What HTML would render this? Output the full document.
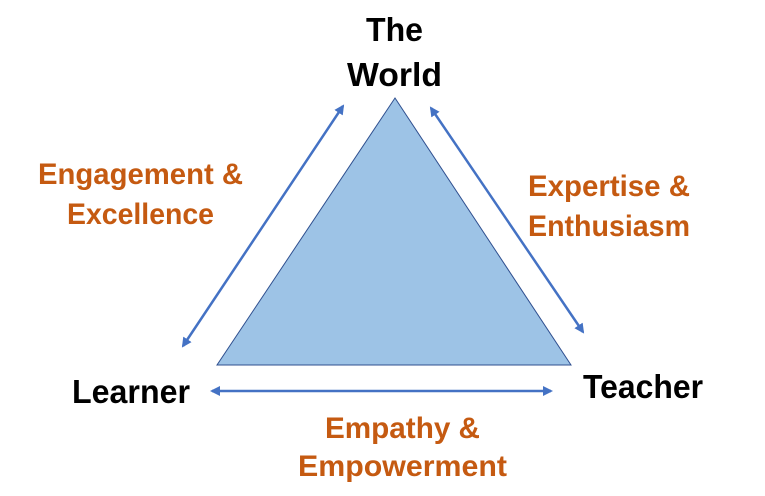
<!DOCTYPE html>
<html><head><meta charset="utf-8"><style>
html,body{margin:0;padding:0;background:#fff;}
svg{display:block;}
text{font-family:"Liberation Sans",sans-serif;font-weight:bold;}
</style></head><body>
<svg width="765" height="496" viewBox="0 0 765 496" xmlns="http://www.w3.org/2000/svg">
<defs>
<marker id="a" markerWidth="10" markerHeight="10" refX="8" refY="5" orient="auto-start-reverse" markerUnits="userSpaceOnUse">
<path d="M0,0 L10,5 L0,10 z" fill="#4472C4"/>
</marker>
</defs>
<polygon points="395,98 217,365 571,365" fill="#9DC3E6" stroke="#2F4F8F" stroke-width="1"/>
<line x1="183" y1="346" x2="343" y2="106" stroke="#4472C4" stroke-width="2.5" marker-start="url(#a)" marker-end="url(#a)"/>
<line x1="431" y1="108" x2="583" y2="332" stroke="#4472C4" stroke-width="2.5" marker-start="url(#a)" marker-end="url(#a)"/>
<line x1="212" y1="391" x2="551" y2="391" stroke="#4472C4" stroke-width="2.5" marker-start="url(#a)" marker-end="url(#a)"/>
<g fill="#000" font-size="33">
<text x="366" y="41" textLength="57" lengthAdjust="spacingAndGlyphs">The</text>
<text x="347" y="86" textLength="95" lengthAdjust="spacingAndGlyphs">World</text>
<text x="72" y="403" textLength="118" lengthAdjust="spacingAndGlyphs">Learner</text>
<text x="583" y="398" textLength="120" lengthAdjust="spacingAndGlyphs">Teacher</text>
</g>
<g fill="#C55A11" font-size="30">
<text x="38" y="184" textLength="205" lengthAdjust="spacingAndGlyphs">Engagement &amp;</text>
<text x="67" y="224" textLength="147" lengthAdjust="spacingAndGlyphs">Excellence</text>
<text x="528" y="196" textLength="162" lengthAdjust="spacingAndGlyphs">Expertise &amp;</text>
<text x="528" y="236" textLength="162" lengthAdjust="spacingAndGlyphs">Enthusiasm</text>
<text x="325" y="438" textLength="155" lengthAdjust="spacingAndGlyphs">Empathy &amp;</text>
<text x="298" y="476" textLength="209" lengthAdjust="spacingAndGlyphs">Empowerment</text>
</g>
</svg>
</body></html>
